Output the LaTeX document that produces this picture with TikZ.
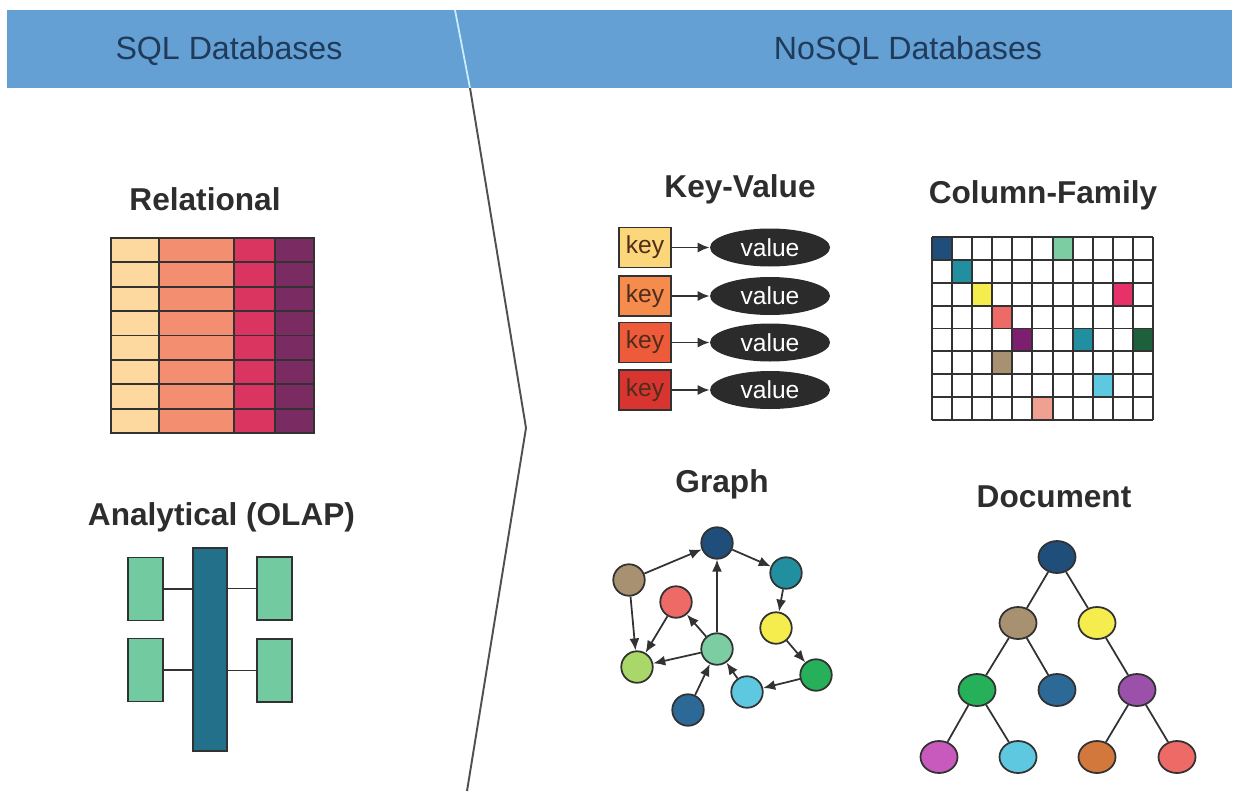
\documentclass[tikz,border=0pt]{standalone}
\usepackage{fontspec}
\setmainfont{Liberation Sans}
\usetikzlibrary{shapes.geometric, arrows.meta}
\definecolor{band}{RGB}{100,160,212}
\definecolor{bandtext}{RGB}{32,58,90}
\definecolor{titlegray}{RGB}{45,45,45}
\definecolor{divgray}{RGB}{80,80,80}
\definecolor{linegray}{RGB}{50,50,50}
\definecolor{relA}{RGB}{253,217,160}
\definecolor{relB}{RGB}{243,142,112}
\definecolor{relC}{RGB}{218,52,96}
\definecolor{relD}{RGB}{121,43,98}
\definecolor{olapbar}{RGB}{35,112,139}
\definecolor{olapgreen}{RGB}{114,203,160}
\definecolor{keyA}{RGB}{251,214,122}
\definecolor{keyB}{RGB}{245,139,76}
\definecolor{keyC}{RGB}{238,91,58}
\definecolor{keyD}{RGB}{216,52,48}
\definecolor{keytext}{RGB}{80,45,25}
\definecolor{valfill}{RGB}{43,43,43}
\definecolor{navy}{RGB}{30,78,121}
\definecolor{tan}{RGB}{168,145,112}
\definecolor{teal}{RGB}{33,143,160}
\definecolor{coral}{RGB}{238,106,102}
\definecolor{lemon}{RGB}{245,236,78}
\definecolor{mint}{RGB}{125,205,162}
\definecolor{lime}{RGB}{170,215,105}
\definecolor{leaf}{RGB}{38,176,90}
\definecolor{sky}{RGB}{95,200,225}
\definecolor{steel}{RGB}{45,105,150}
\definecolor{plum}{RGB}{155,80,170}
\definecolor{orchid}{RGB}{200,90,190}
\definecolor{rust}{RGB}{210,120,60}
\definecolor{magenta}{RGB}{230,50,105}
\definecolor{wine}{RGB}{125,30,110}
\definecolor{forest}{RGB}{30,95,60}
\definecolor{peach}{RGB}{240,160,145}

\begin{document}
\begin{tikzpicture}[x=0.02cm, y=-0.02cm,
    header/.style = {font=\fontsize{18.3}{20}\selectfont, text=bandtext},
    title/.style = {font=\fontsize{18}{20}\selectfont\bfseries, text=titlegray},
    cell line/.style = {draw=linegray, line width=1.1pt},
    dim box/.style = {draw=linegray, fill=olapgreen, line width=1pt, minimum width=0.7cm, minimum height=1.26cm, inner sep=0pt},
    keybox/.style = {draw=linegray, line width=1pt, minimum width=1.04cm, minimum height=0.8cm, inner sep=0pt, font=\fontsize{14}{16}\selectfont, text=keytext},
    valnode/.style = {ellipse, fill=valfill, minimum width=2.4cm, minimum height=0.76cm, inner sep=0pt, text=white, font=\fontsize{14}{16}\selectfont},
    gnode/.style = {circle, draw=linegray, line width=1pt, minimum size=0.63cm, inner sep=0pt},
    dnode/.style = {ellipse, draw=linegray, line width=1pt, minimum width=0.74cm, minimum height=0.64cm, inner sep=0pt},
    link/.style = {draw=linegray, line width=1pt, -{Latex[length=2.4mm, width=2mm]}},
    branch/.style = {draw=linegray, line width=1pt}]
    \useasboundingbox (0,0) rectangle (1239,791);

    \fill[band] (7,10) rectangle (1232,88);
    \node[header] (sql head) at (229,51) {SQL Databases};
    \node[header] (nosql head) at (908,51) {NoSQL Databases};

    \coordinate (div top) at (455,10);
    \coordinate (div band) at (470,88);
    \coordinate (div tip) at (526,428);
    \coordinate (div bottom) at (467,791);
    \draw[cyan!20!white, line width=1pt] (div top) -- (div band);
    \draw[divgray, line width=1.1pt] (div band) -- (div tip) -- (div bottom);

    \node[title] (rel title) at (205,199) {Relational};
    \begin{scope}
        \filldraw[cell line, fill=relA] (111,238) rectangle (159,433);
        \filldraw[cell line, fill=relB] (159,238) rectangle (234,433);
        \filldraw[cell line, fill=relC] (234,238) rectangle (275,433);
        \filldraw[cell line, fill=relD] (275,238) rectangle (314,433);
        \foreach \y in {262.4,286.8,311.1,335.5,359.9,384.3,408.6}
            \draw[cell line] (111,\y) -- (314,\y);
    \end{scope}

    \node[title] (olap title) at (221.5,517) {Analytical (OLAP)};
    \begin{scope}
        \node[draw=linegray, fill=olapbar, line width=1pt, minimum width=0.68cm, minimum height=4.06cm, inner sep=0pt] (fact) at (210,649.5) {};
        \node[dim box] (dim lt) at (145.5,589) {};
        \node[dim box] (dim lb) at (145.5,670) {};
        \node[dim box] (dim rt) at (274.5,588.5) {};
        \node[dim box] (dim rb) at (274.5,670.5) {};
        \draw[branch] (dim lt) -- (dim lt -| fact.west);
        \draw[branch] (dim lb) -- (dim lb -| fact.west);
        \draw[branch] (dim rt) -- (dim rt -| fact.east);
        \draw[branch] (dim rb) -- (dim rb -| fact.east);
    \end{scope}

    \node[title] (kv title) at (740,189) {Key-Value};
    \begin{scope}
        \node[keybox, fill=keyA] (key1) at (645,247.5) {key};
        \node[keybox, fill=keyB] (key2) at (645,296) {key};
        \node[keybox, fill=keyC] (key3) at (645,342.5) {key};
        \node[keybox, fill=keyD] (key4) at (645,390) {key};
        \node[valnode] (val1) at (770,247.5) {value};
        \node[valnode] (val2) at (770,296) {value};
        \node[valnode] (val3) at (770,342.5) {value};
        \node[valnode] (val4) at (770,390) {value};
        \draw[link] (key1) -- (val1);
        \draw[link] (key2) -- (val2);
        \draw[link] (key3) -- (val3);
        \draw[link] (key4) -- (val4);
    \end{scope}

    \node[title] (cf title) at (1043,195) {Column-Family};
    \begin{scope}[shift={(932,237)}, x={(0.4018cm,0)}, y={(0,-0.4575cm)}]
        \fill[navy] (0,0) rectangle (1,1);
        \fill[mint] (6,0) rectangle (7,1);
        \fill[teal] (1,1) rectangle (2,2);
        \fill[lemon] (2,2) rectangle (3,3);
        \fill[magenta] (9,2) rectangle (10,3);
        \fill[coral] (3,3) rectangle (4,4);
        \fill[wine] (4,4) rectangle (5,5);
        \fill[teal] (7,4) rectangle (8,5);
        \fill[forest] (10,4) rectangle (11,5);
        \fill[tan] (3,5) rectangle (4,6);
        \fill[sky] (8,6) rectangle (9,7);
        \fill[peach] (5,7) rectangle (6,8);
        \foreach \c in {0,...,11}
            \draw[cell line] (\c,0) -- (\c,8);
        \foreach \r in {0,...,8}
            \draw[cell line] (0,\r) -- (11,\r);
    \end{scope}

    \node[title] (graph title) at (722,484) {Graph};
    \begin{scope}
        \node[gnode, fill=navy] (g top) at (717,543) {};
        \node[gnode, fill=tan] (g tan) at (629,580) {};
        \node[gnode, fill=teal] (g teal) at (786,573) {};
        \node[gnode, fill=coral] (g red) at (676,602) {};
        \node[gnode, fill=lemon] (g yellow) at (776,628) {};
        \node[gnode, fill=mint] (g mint) at (717,649) {};
        \node[gnode, fill=lime] (g lime) at (637,667) {};
        \node[gnode, fill=leaf] (g green) at (816,675) {};
        \node[gnode, fill=sky] (g sky) at (747,692) {};
        \node[gnode, fill=steel] (g blue) at (688,710) {};

        \draw[link] (g tan) -- (g top);
        \draw[link] (g top) -- (g teal);
        \draw[link] (g teal) -- (g yellow);
        \draw[link] (g yellow) -- (g green);
        \draw[link] (g green) -- (g sky);
        \draw[link] (g sky) -- (g mint);
        \draw[link] (g blue) -- (g mint);
        \draw[link] (g mint) -- (g top);
        \draw[link] (g mint) -- (g red);
        \draw[link] (g mint) -- (g lime);
        \draw[link] (g red) -- (g lime);
        \draw[link] (g tan) -- (g lime);
    \end{scope}

    \node[title] (doc title) at (1054,497) {Document};
    \begin{scope}
        \node[dnode, fill=navy] (d root) at (1057,557) {};
        \node[dnode, fill=tan] (d tan) at (1018,623) {};
        \node[dnode, fill=lemon] (d yellow) at (1097,623) {};
        \node[dnode, fill=leaf] (d green) at (977,690) {};
        \node[dnode, fill=steel] (d blue) at (1057,690) {};
        \node[dnode, fill=plum] (d purple) at (1137,690) {};
        \node[dnode, fill=orchid] (d pink) at (939,757) {};
        \node[dnode, fill=sky] (d sky) at (1018,757) {};
        \node[dnode, fill=rust] (d orange) at (1097,757) {};
        \node[dnode, fill=coral] (d red) at (1177,757) {};

        \draw[branch] (d root) -- (d tan);
        \draw[branch] (d root) -- (d yellow);
        \draw[branch] (d tan) -- (d green);
        \draw[branch] (d tan) -- (d blue);
        \draw[branch] (d yellow) -- (d purple);
        \draw[branch] (d green) -- (d pink);
        \draw[branch] (d green) -- (d sky);
        \draw[branch] (d purple) -- (d orange);
        \draw[branch] (d purple) -- (d red);
    \end{scope}
\end{tikzpicture}
\end{document}
